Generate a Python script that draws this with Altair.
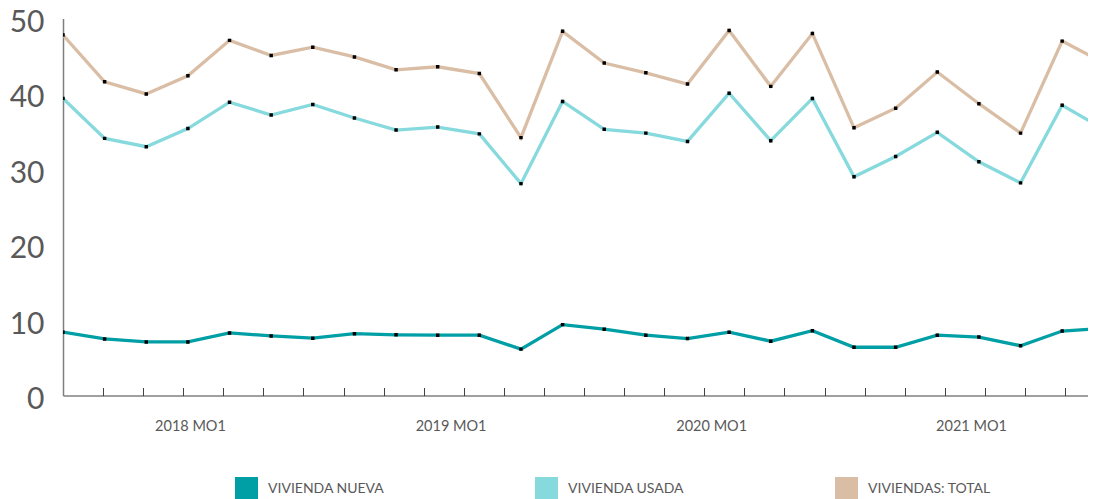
import altair as alt
import pandas as pd

# ---- data ----
periods = list(range(26))
nueva = [8.4, 7.5, 7.1, 7.1, 8.3, 7.9, 7.6, 8.2, 8.05, 8.0, 8.0, 6.15, 9.4, 8.8,
         8.0, 7.55, 8.4, 7.2, 8.6, 6.4, 6.4, 8.0, 7.75, 6.6, 8.55, 8.9]
usada = [39.4, 34.1, 33.0, 35.4, 38.9, 37.2, 38.6, 36.8, 35.2, 35.6, 34.7, 28.1, 39.0, 35.3,
         34.8, 33.7, 40.1, 33.8, 39.4, 29.0, 31.7, 34.9, 31.0, 28.2, 38.5, 35.3]
total = [47.8, 41.6, 40.0, 42.4, 47.1, 45.1, 46.2, 44.9, 43.2, 43.6, 42.7, 34.2, 48.3, 44.1,
         42.8, 41.3, 48.4, 41.0, 48.0, 35.5, 38.1, 42.9, 38.7, 34.8, 47.0, 44.1]

series_names = ["VIVIENDA NUEVA", "VIVIENDA USADA", "VIVIENDAS: TOTAL"]
series_colors = ["#009fa6", "#86d9dd", "#d9bea5"]

year_labels = ["2018 MO1", "2019 MO1", "2020 MO1", "2021 MO1"]
year_label_pos = [3.05, 9.31, 15.57, 21.81]
tick_pos = [round(k * 0.9627, 4) for k in range(26)]
y_ticks = [0, 10, 20, 30, 40, 50]

rows = []
for name, vals in zip(series_names, [nueva, usada, total]):
    for p, v in zip(periods, vals):
        rows.append({"periodo": p, "serie": name, "valor": v})
df = pd.DataFrame(rows)

FONT = "Lato"
x_scale = alt.Scale(domain=[0, 24.62], nice=False, zero=False)
y_scale = alt.Scale(domain=[0, 50], nice=False)

y_axis = alt.Axis(values=y_ticks, domain=True, domainColor="#7f7f7f", domainWidth=1.5,
                  ticks=False, grid=False, labelFont=FONT, labelFontSize=30,
                  labelColor="#595959", labelPadding=19, labelOffset=4, title=None)

label_expr = ("[" + ",".join(f"'{s}'" for s in year_labels) + "][indexof(["
              + ",".join(str(p) for p in year_label_pos) + "], datum.value)]")

label_axis = alt.Axis(values=year_label_pos, labelExpr=label_expr, ticks=False, domain=True,
                      domainColor="#404040", domainWidth=1, grid=False, labelFont=FONT,
                      labelFontSize=14.5, labelColor="#595959", labelPadding=24,
                      labelFlush=False, labelOverlap=False, title=None, orient="bottom")

tick_axis = alt.Axis(values=tick_pos, ticks=True, tickSize=8, tickColor="#404040", tickWidth=1,
                     labels=False, domain=False, grid=False, offset=-8, title=None,
                     orient="bottom")

color_scale = alt.Scale(domain=series_names, range=series_colors)
legend = alt.Legend(title=None, orient="none", legendX=172, legendY=458.5,
                    direction="horizontal", symbolType="square",
                    symbolSize=529, symbolStrokeWidth=0, symbolOpacity=1,
                    labelFont=FONT, labelFontSize=14, labelColor="#595959",
                    labelOffset=10, columnPadding=150, padding=0)

lines = alt.Chart(df).mark_line(strokeWidth=3.3, clip=True).encode(
    x=alt.X("periodo:Q", scale=x_scale, axis=label_axis),
    y=alt.Y("valor:Q", scale=y_scale, axis=y_axis),
    stroke=alt.Stroke("serie:N", scale=color_scale, legend=legend),
    detail="serie:N",
)

points = alt.Chart(df).mark_square(size=12, color="black", opacity=1, clip=True).encode(
    x=alt.X("periodo:Q", scale=x_scale, axis=tick_axis),
    y=alt.Y("valor:Q", scale=y_scale, axis=y_axis),
)

legend_layer = alt.Chart(df).mark_square(size=0, clip=True).encode(
    x=alt.X("periodo:Q", scale=x_scale, axis=None),
    y=alt.Y("valor:Q", scale=y_scale, axis=y_axis),
    fill=alt.Fill("serie:N", scale=color_scale, legend=legend),
)

chart = alt.layer(lines, points, legend_layer).resolve_axis(x="independent").properties(
    width=1025, height=377,
    padding={"left": 55, "top": 10.5, "right": 0, "bottom": 103.5},
    autosize=alt.AutoSizeParams(type="none"),
).configure_view(stroke=None)

chart.save("out.html", embed_options={"renderer": "svg", "actions": False})
